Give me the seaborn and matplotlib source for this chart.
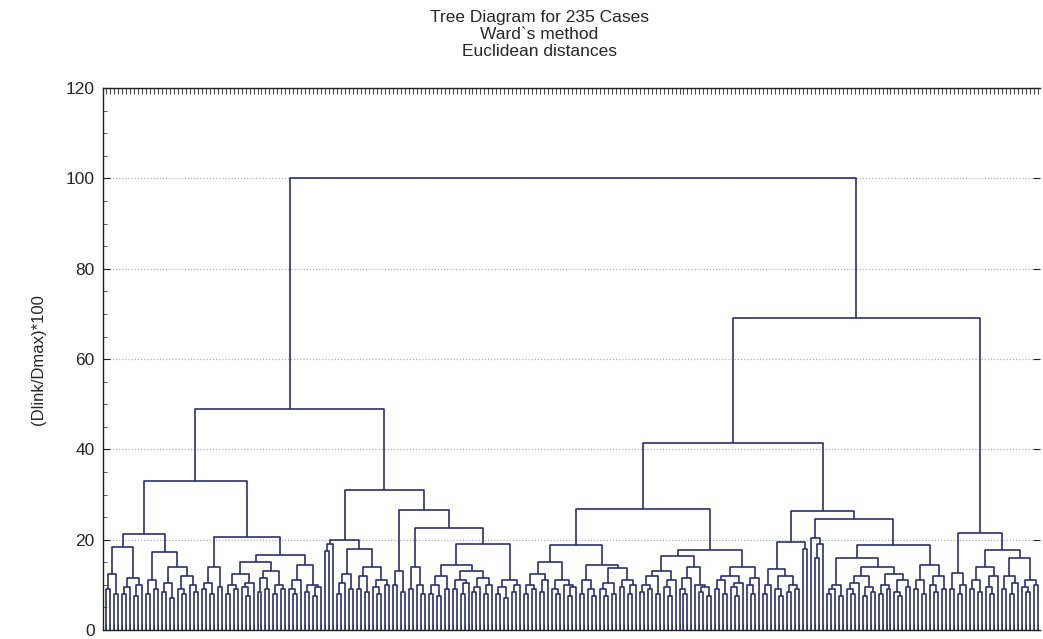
import numpy as np
import matplotlib
matplotlib.use("Agg")
import matplotlib.pyplot as plt
import seaborn as sns
from matplotlib.collections import LineCollection
from matplotlib.ticker import MultipleLocator

# Merge heights between neighbouring cases (left to right).
# The tree is rebuilt from them: the largest gap in a range is the top join.
ll_gaps = [9, 12.5, 8, 18.3, 8, 9.5, 11.5, 7.5, 10, 21.2, 8, 11, 9, 17.2,
           8.5, 10.5, 7, 14, 9, 8, 12, 10, 8.5, 32.9,
           9, 10.4, 8, 14, 9.5, 20.5,
           8, 10, 9, 12.5, 9.5, 7.5, 10.5, 15,
           8.5, 11.5, 9, 13, 8, 10, 9, 16.6,
           9, 8, 11, 14.3, 8.5, 10, 7.5, 9.5]
lr_gaps = [17.5, 19, 20,
           8, 10.5, 12.5, 9, 18, 9, 12, 8.5, 14, 9.5, 8, 11, 10, 31,
           10, 13, 8.5, 26.5,
           9, 14, 10, 8, 22.7,
           8, 10, 7.5, 12, 9, 14.3,
           9, 11, 8, 10.5, 13, 8.5, 9.5, 11.5, 8, 10, 19,
           8, 9.5, 7, 11, 8.5, 10]
rl_a_gaps = [8, 10, 9, 12.5, 8.5, 11, 15, 9, 8, 11, 10, 7.5, 9.5, 18.8,
             8, 11, 9, 7.5, 14.5, 9, 7.5, 10.5, 8, 13.7, 9.5, 11, 8, 10, 26.8,
             8.5, 10, 9, 12, 8, 13, 9.5, 7.5, 11, 16.3,
             9, 8, 11.5, 14, 10, 8.5, 9.5, 7.5, 17.7,
             9, 11, 8, 12, 9.5, 7.5, 10.5, 14, 10, 8, 11.5]
rl_b_gaps = [8, 10, 13.5, 9, 7.5, 12, 8.5, 10, 9, 19.6, 18, 26.3,
             20.3, 16, 19, 24.7,
             8, 9, 10, 7.5, 16, 9, 8, 10.5, 12, 7.5, 9.5, 8.5, 14,
             8, 10, 9, 12.5, 8.5, 7.5, 11, 9.5, 18.8,
             9, 11, 8, 14.5, 10, 8.5, 12, 9]
rr_gaps = [9, 12.6, 8, 10, 21.6,
           9, 11, 8.5, 14, 9.5, 8, 12, 17.7,
           9, 12, 8, 10.5, 16, 9.5, 8.5, 11, 10]
# joins between the blocks above: L, root, right-left, right
join_heights = [49.0, 100.0, 41.5, 69.0]

title_lines = ["Tree Diagram for 235 Cases", "Ward`s method", "Euclidean distances"]
y_label = "(Dlink/Dmax)*100"

gaps = np.array(ll_gaps + [join_heights[0]] + lr_gaps + [join_heights[1]]
                + rl_a_gaps + [join_heights[2]] + rl_b_gaps + [join_heights[3]]
                + rr_gaps, dtype=float)
n_cases = len(gaps) + 1

segments = []


def build(lo, hi):
    if lo == hi:
        return float(lo), 0.0
    k = lo + int(np.argmax(gaps[lo:hi]))
    xl, hl = build(lo, k)
    xr, hr = build(k + 1, hi)
    h = gaps[k]
    segments.append([(xl, hl), (xl, h), (xr, h), (xr, hr)])
    return (xl + xr) / 2, h


build(0, n_cases - 1)

sns.set_theme(style="white")
plt.rcParams['font.family'] = ['Liberation Sans', 'DejaVu Sans']

fig = plt.figure(figsize=(10.43, 6.39), dpi=100)
ax = fig.add_axes([0.0988, 0.014, 0.8985, 0.848])

lc = LineCollection(segments, colors="#2f2f72", linewidths=1.2)
ax.add_collection(lc)

ax.set_xlim(-0.8, n_cases - 0.4)
ax.set_ylim(0, 120)

ax.yaxis.set_major_locator(MultipleLocator(20))
ax.yaxis.set_minor_locator(MultipleLocator(5))
ax.grid(axis="y", which="major", linestyle=(0, (1, 1.5)), color="#b0b0b0", linewidth=0.9)
ax.set_axisbelow(True)

ax.set_xticks(np.arange(n_cases))
ax.set_xticklabels([])
ax.tick_params(axis="x", which="major", top=True, bottom=True, direction="in",
               length=4, width=0.6, color="#222222")
ax.tick_params(axis="y", which="major", left=True, right=True, direction="in",
               length=5, width=0.8, labelsize=12.5, color="#222222", pad=6)
ax.tick_params(axis="y", which="minor", left=True, right=False, direction="in",
               length=3, width=0.6, color="#444444")

for side in ["left", "top", "bottom"]:
    ax.spines[side].set_color("#222222")
    ax.spines[side].set_linewidth(1.0)
ax.spines["right"].set_visible(False)

ax.set_ylabel(y_label, fontsize=12, labelpad=14)

for i, line in enumerate(title_lines):
    fig.text(0.517, 0.972 - i * 0.026, line, ha="center", va="center", fontsize=12.5)

fig.savefig("out.png", dpi=100)
